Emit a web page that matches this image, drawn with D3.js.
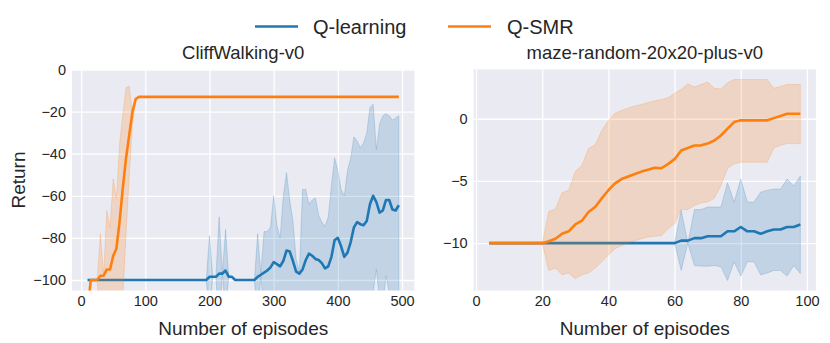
<!DOCTYPE html>
<html>
<head>
<meta charset="utf-8">
<script src="https://cdn.jsdelivr.net/npm/d3@7"></script>
<style>
  body { margin: 0; background: #fff; }
  svg { display: block; font-family: "Liberation Sans", Arial, sans-serif; }
</style>
</head>
<body>
<svg id="chart" width="830" height="343"></svg>
<script>
// ---- CliffWalking-v0 (one point every 5 episodes) ----
const cliffEpisodes = [
  10, 15, 20, 25, 30, 35, 40, 45, 50, 55,
  60, 65, 70, 75, 80, 85, 90, 95, 100, 105,
  110, 115, 120, 125, 130, 135, 140, 145, 150, 155,
  160, 165, 170, 175, 180, 185, 190, 195, 200, 205,
  210, 215, 220, 225, 230, 235, 240, 245, 250, 255,
  260, 265, 270, 275, 280, 285, 290, 295, 300, 305,
  310, 315, 320, 325, 330, 335, 340, 345, 350, 355,
  360, 365, 370, 375, 380, 385, 390, 395, 400, 405,
  410, 415, 420, 425, 430, 435, 440, 445, 450, 455,
  460, 465, 470, 475, 480, 485, 490, 495
];
const qlCliffMean = [
  -100, -100, -100, -100, -100, -100, -100, -100, -100, -100,
  -100, -100, -100, -100, -100, -100, -100, -100, -100, -100,
  -100, -100, -100, -100, -100, -100, -100, -100, -100, -100,
  -100, -100, -100, -100, -100, -100, -100, -100, -98.5, -98.5,
  -98.5, -97, -97, -95.5, -98.5, -98.5, -100, -100, -100, -100,
  -100, -100, -100, -98.5, -97.5, -96.5, -95.5, -94, -91.5, -92.5,
  -93.5, -91, -86, -86.5, -91, -96, -97, -95, -90.5, -87.5,
  -88.5, -90, -90.5, -92, -94.5, -93.5, -89, -81, -80, -84,
  -89, -87, -82, -75, -72.5, -73.5, -74, -72, -64, -60,
  -63, -68, -67, -62, -62, -66.5, -67, -64.5
];
const qlCliffUpper = [
  -100, -100, -100, -100, -100, -100, -100, -100, -100, -100,
  -100, -100, -100, -100, -100, -100, -100, -100, -100, -100,
  -100, -100, -100, -100, -100, -100, -100, -100, -100, -100,
  -100, -100, -100, -100, -100, -100, -100, -100, -79, -98.5,
  -98.5, -70, -97, -76, -98.5, -98.5, -100, -100, -100, -100,
  -100, -100, -100, -78, -97, -77, -77, -75, -60, -74,
  -80, -60, -49, -62, -72, -90, -96, -57, -57, -64,
  -62, -61, -69, -72.5, -74.5, -70, -55, -42, -48, -57,
  -60, -48, -42, -32, -34, -37, -35, -30, -18, -16.5,
  -38, -26, -22, -21, -22, -24, -23, -22
];
const qlCliffLower = [
  -100, -100, -100, -100, -100, -100, -100, -100, -100, -100,
  -100, -100, -100, -100, -100, -100, -100, -100, -100, -100,
  -100, -100, -100, -100, -100, -100, -100, -100, -100, -100,
  -100, -100, -100, -100, -100, -100, -100, -100, -118, -98.5,
  -98.5, -124, -97, -115, -98.5, -98.5, -100, -100, -100, -100,
  -100, -100, -100, -119, -98, -116, -114, -113, -123, -110,
  -107, -118, -123, -112, -110, -106, -112, -133, -123, -109,
  -117, -119, -112, -111, -114, -117, -123, -120, -112, -110,
  -118, -126, -122, -118, -112, -110, -113, -114, -110, -106,
  -95, -110, -112, -98, -106, -109, -113, -107
];
const smrCliffMean = [
  -115, -100, -100, -100, -98, -98, -95, -95, -88.5, -85,
  -72, -56, -42, -31, -20, -14, -13, -13, -13, -13,
  -13, -13, -13, -13, -13, -13, -13, -13, -13, -13,
  -13, -13, -13, -13, -13, -13, -13, -13, -13, -13,
  -13, -13, -13, -13, -13, -13, -13, -13, -13, -13,
  -13, -13, -13, -13, -13, -13, -13, -13, -13, -13,
  -13, -13, -13, -13, -13, -13, -13, -13, -13, -13,
  -13, -13, -13, -13, -13, -13, -13, -13, -13, -13,
  -13, -13, -13, -13, -13, -13, -13, -13, -13, -13,
  -13, -13, -13, -13, -13, -13, -13, -13
];
const smrCliffUpper = [
  -115, -100, -100, -100, -78, -98, -67, -75, -52, -61,
  -35, -21, -8.5, -8, -21, -13.5, -13, -13, -13, -13,
  -13, -13, -13, -13, -13, -13, -13, -13, -13, -13,
  -13, -13, -13, -13, -13, -13, -13, -13, -13, -13,
  -13, -13, -13, -13, -13, -13, -13, -13, -13, -13,
  -13, -13, -13, -13, -13, -13, -13, -13, -13, -13,
  -13, -13, -13, -13, -13, -13, -13, -13, -13, -13,
  -13, -13, -13, -13, -13, -13, -13, -13, -13, -13,
  -13, -13, -13, -13, -13, -13, -13, -13, -13, -13,
  -13, -13, -13, -13, -13, -13, -13, -13
];
const smrCliffLower = [
  -115, -100, -100, -100, -125, -112, -124, -118, -126, -115,
  -122, -108, -78, -50, -26, -15, -13, -13, -13, -13,
  -13, -13, -13, -13, -13, -13, -13, -13, -13, -13,
  -13, -13, -13, -13, -13, -13, -13, -13, -13, -13,
  -13, -13, -13, -13, -13, -13, -13, -13, -13, -13,
  -13, -13, -13, -13, -13, -13, -13, -13, -13, -13,
  -13, -13, -13, -13, -13, -13, -13, -13, -13, -13,
  -13, -13, -13, -13, -13, -13, -13, -13, -13, -13,
  -13, -13, -13, -13, -13, -13, -13, -13, -13, -13,
  -13, -13, -13, -13, -13, -13, -13, -13
];

// ---- maze-random-20x20-plus-v0 (one point every 2 episodes) ----
const mazeEpisodes = [
  4, 6, 8, 10, 12, 14, 16, 18, 20, 22,
  24, 26, 28, 30, 32, 34, 36, 38, 40, 42,
  44, 46, 48, 50, 52, 54, 56, 58, 60, 62,
  64, 66, 68, 70, 72, 74, 76, 78, 80, 82,
  84, 86, 88, 90, 92, 94, 96, 98
];
const qlMazeMean = [
  -10, -10, -10, -10, -10, -10, -10, -10, -10, -10,
  -10, -10, -10, -10, -10, -10, -10, -10, -10, -10,
  -10, -10, -10, -10, -10, -10, -10, -10, -10, -9.8,
  -9.8, -9.6, -9.6, -9.45, -9.45, -9.45, -9.05, -9.05, -8.7, -9.05,
  -9.05, -9.25, -9.05, -8.9, -8.9, -8.7, -8.7, -8.5
];
const qlMazeUpper = [
  -10, -10, -10, -10, -10, -10, -10, -10, -10, -10,
  -10, -10, -10, -10, -10, -10, -10, -10, -10, -10,
  -10, -10, -10, -10, -10, -10, -10, -10, -10, -7.35,
  -10, -7.3, -7.3, -7.1, -7.1, -7.1, -5.15, -6.7, -4.85, -6.7,
  -6.7, -5.9, -5.75, -5.65, -5.65, -4.85, -5.4, -4.6
];
const qlMazeLower = [
  -10, -10, -10, -10, -10, -10, -10, -10, -10, -10,
  -10, -10, -10, -10, -10, -10, -10, -10, -10, -10,
  -10, -10, -10, -10, -10, -10, -10, -10, -10, -12.2,
  -10, -11.8, -11.85, -11.85, -11.8, -11.9, -13.0, -11.5, -12.65, -11.5,
  -11.5, -12.55, -12.4, -12.2, -12.2, -12.65, -11.8, -12.45
];
const smrMazeMean = [
  -10, -10, -10, -10, -10, -10, -10, -10, -10, -9.85,
  -9.65, -9.25, -9.05, -8.5, -8.2, -7.5, -7.1, -6.4, -5.75, -5.2,
  -4.85, -4.65, -4.45, -4.25, -4.1, -3.95, -3.98, -3.65, -3.25, -2.55,
  -2.35, -2.15, -2.14, -2.0, -1.75, -1.35, -0.8, -0.27, -0.13, -0.13,
  -0.13, -0.13, -0.13, 0.05, 0.22, 0.4, 0.4, 0.4
];
const smrMazeUpper = [
  -10, -10, -10, -10, -10, -10, -10, -10, -10, -7.45,
  -7.25, -5.95, -5.75, -4.25, -3.75, -2.4, -2.1, -0.95, -0.15, 0.45,
  0.67, 0.86, 1.02, 1.15, 1.3, 1.45, 1.53, 1.69, 2.05, 2.36,
  2.8, 2.55, 2.75, 2.95, 2.45, 2.4, 2.9, 3.15, 3.15, 3.15,
  3.15, 3.15, 3.15, 2.45, 2.6, 2.75, 2.75, 2.75
];
const smrMazeLower = [
  -10, -10, -10, -10, -10, -10, -10, -10, -10, -12.2,
  -12.0, -12.55, -12.4, -12.87, -12.55, -12.4, -12.0, -11.5, -10.95, -10.45,
  -10.2, -10.0, -9.8, -9.65, -9.5, -9.45, -9.4, -8.85, -8.45, -7.3,
  -7.3, -6.97, -6.76, -6.7, -6.4, -5.36, -4.0, -3.62, -3.5, -3.5,
  -3.5, -3.5, -3.5, -2.36, -2.14, -2.0, -2.0, -2.0
];

const cliffXTicks = [0, 100, 200, 300, 400, 500];
const cliffYTicks = [-100, -80, -60, -40, -20, 0];
const mazeXTicks = [0, 20, 40, 60, 80, 100];
const mazeYTicks = [-10, -5, 0];

const seriesNames = ['Q-learning', 'Q-SMR'];
const seriesColors = ['#1f77b4', '#ff7f0e'];

(function () {
  'use strict';

  const svg = d3.select('#chart');
  const plotTop = 69.5;
  const plotBottom = 290.5;
  const textColor = '#262626';

  // matplotlib style 5% margins
  function padded(lo, hi) {
    const m = (hi - lo) * 0.05;
    return [lo - m, hi + m];
  }

  function drawPanel(opt, idx) {
    const g = svg.append('g');
    const x = d3.scaleLinear().domain(opt.xDomain).range([opt.x0, opt.x1]);
    const y = d3.scaleLinear().domain(opt.yDomain).range([plotBottom, plotTop]);
    const h = plotBottom - plotTop;

    g.append('rect')
      .attr('x', opt.x0).attr('y', plotTop)
      .attr('width', opt.x1 - opt.x0).attr('height', h)
      .attr('fill', '#eaeaf2');

    // white grid
    g.append('g')
      .attr('transform', 'translate(0,' + plotBottom + ')')
      .call(d3.axisBottom(x).tickValues(opt.xTicks).tickSize(-h).tickFormat(''))
      .call(s => s.select('.domain').remove())
      .selectAll('line').attr('stroke', '#fff').attr('stroke-width', 1.3);
    g.append('g')
      .attr('transform', 'translate(' + opt.x0 + ',0)')
      .call(d3.axisLeft(y).tickValues(opt.yTicks).tickSize(-(opt.x1 - opt.x0)).tickFormat(''))
      .call(s => s.select('.domain').remove())
      .selectAll('line').attr('stroke', '#fff').attr('stroke-width', 1.3);

    const clipId = 'clip' + idx;
    svg.append('clipPath').attr('id', clipId)
      .append('rect')
      .attr('x', opt.x0).attr('y', plotTop)
      .attr('width', opt.x1 - opt.x0).attr('height', h);

    const plot = g.append('g').attr('clip-path', 'url(#' + clipId + ')');

    opt.series.forEach(function (s, i) {
      const rows = opt.episodes.map((e, k) => ({ e: e, m: s.mean[k], lo: s.lower[k], hi: s.upper[k] }));
      const area = d3.area().x(d => x(d.e)).y0(d => y(d.lo)).y1(d => y(d.hi));
      const line = d3.line().x(d => x(d.e)).y(d => y(d.m));
      plot.append('path')
        .datum(rows)
        .attr('d', area)
        .attr('fill', seriesColors[i]).attr('fill-opacity', 0.2)
        .attr('stroke', seriesColors[i]).attr('stroke-opacity', 0.2).attr('stroke-width', 1);
      plot.append('path')
        .datum(rows)
        .attr('d', line)
        .attr('fill', 'none')
        .attr('stroke', seriesColors[i])
        .attr('stroke-width', 2.6)
        .attr('stroke-linejoin', 'round');
    });

    // tick labels
    const xa = g.append('g')
      .attr('transform', 'translate(0,' + plotBottom + ')')
      .call(d3.axisBottom(x).tickValues(opt.xTicks).tickSize(0).tickPadding(5.5));
    xa.select('.domain').remove();
    xa.selectAll('text').attr('font-size', 14.5).attr('fill', textColor).attr('font-family', null);

    const ya = g.append('g')
      .attr('transform', 'translate(' + opt.x0 + ',0)')
      .call(d3.axisLeft(y).tickValues(opt.yTicks).tickSize(0).tickPadding(6));
    ya.select('.domain').remove();
    ya.selectAll('text').attr('font-size', 14.5).attr('fill', textColor).attr('font-family', null);

    const cx = (opt.x0 + opt.x1) / 2;
    g.append('text')
      .attr('x', cx).attr('y', 59)
      .attr('text-anchor', 'middle')
      .attr('font-size', 18.5).attr('fill', textColor)
      .text(opt.title);
    g.append('text')
      .attr('x', cx).attr('y', 335)
      .attr('text-anchor', 'middle')
      .attr('font-size', 19).attr('fill', textColor)
      .text('Number of episodes');

    if (opt.yLabel) {
      g.append('text')
        .attr('transform', 'translate(24.5,' + (plotTop + h / 2) + ') rotate(-90)')
        .attr('text-anchor', 'middle')
        .attr('font-size', 19).attr('fill', textColor)
        .text(opt.yLabel);
    }
  }

  drawPanel({
    title: 'CliffWalking-v0',
    yLabel: 'Return',
    x0: 72, x1: 414.4,
    episodes: cliffEpisodes,
    xDomain: padded(d3.min(cliffEpisodes), d3.max(cliffEpisodes)),
    yDomain: [-105, 0],
    xTicks: cliffXTicks,
    yTicks: cliffYTicks,
    series: [
      { mean: qlCliffMean, upper: qlCliffUpper, lower: qlCliffLower },
      { mean: smrCliffMean, upper: smrCliffUpper, lower: smrCliffLower }
    ]
  }, 0);

  const mazeLo = d3.min([d3.min(qlMazeLower), d3.min(smrMazeLower)]);
  const mazeHi = d3.max([d3.max(qlMazeUpper), d3.max(smrMazeUpper)]);
  drawPanel({
    title: 'maze-random-20x20-plus-v0',
    x0: 473.7, x1: 815.9,
    episodes: mazeEpisodes,
    xDomain: padded(d3.min(mazeEpisodes), d3.max(mazeEpisodes)),
    yDomain: padded(mazeLo, mazeHi),
    xTicks: mazeXTicks,
    yTicks: mazeYTicks,
    series: [
      { mean: qlMazeMean, upper: qlMazeUpper, lower: qlMazeLower },
      { mean: smrMazeMean, upper: smrMazeUpper, lower: smrMazeLower }
    ]
  }, 1);

  // legend
  const legendItems = [
    { lx: 255, tx: 313 },
    { lx: 448, tx: 507 }
  ];
  const legend = svg.append('g');
  legendItems.forEach(function (it, i) {
    legend.append('line')
      .attr('x1', it.lx).attr('x2', it.lx + 43)
      .attr('y1', 26.5).attr('y2', 26.5)
      .attr('stroke', seriesColors[i]).attr('stroke-width', 2.6);
    legend.append('text')
      .attr('x', it.tx).attr('y', 33.5)
      .attr('font-size', 20).attr('fill', textColor)
      .text(seriesNames[i]);
  });
}());
</script>
</body>
</html>
